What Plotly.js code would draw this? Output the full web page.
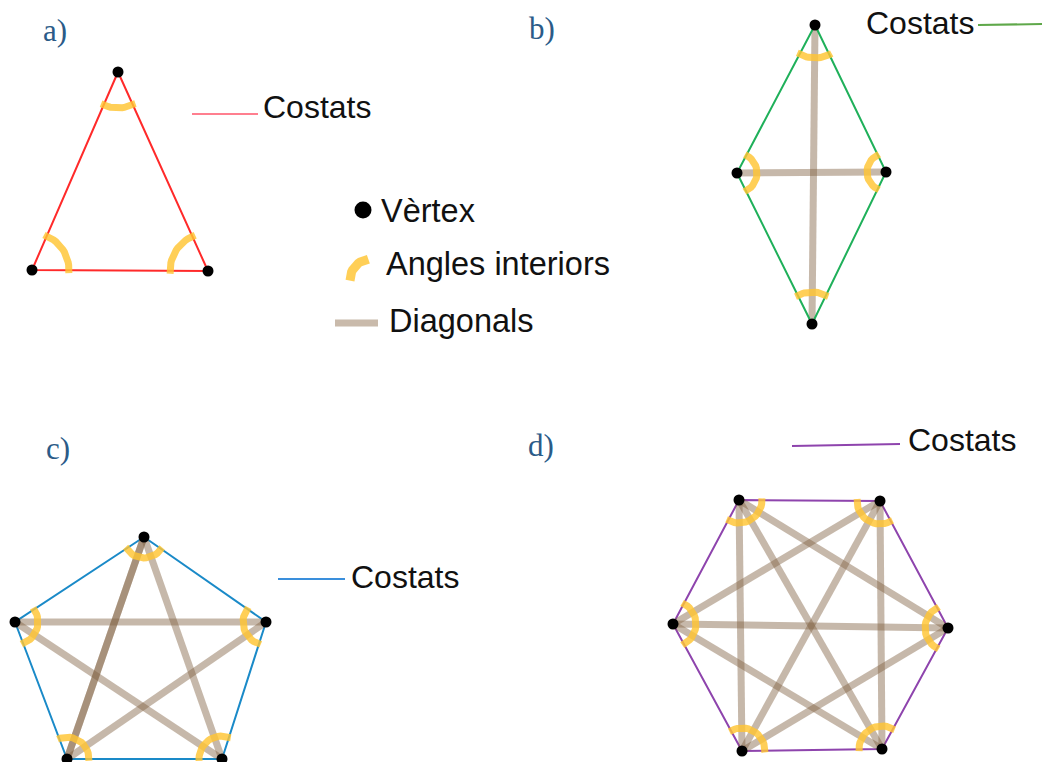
<!DOCTYPE html>
<html><head><meta charset="utf-8">
<script src="https://cdn.plot.ly/plotly-3.0.1.min.js"></script>
<style>html,body{margin:0;padding:0;background:#fff}#chart{width:1042px;height:762px}</style>
</head><body><div id="chart"></div>
<script>
// ---- data: polygon vertices (picture coordinates) ----
const triX = [118, 32, 208];
const triY = [72, 270, 271];
const triR = [36, 37, 38];

const rhoX = [815, 886, 812, 737];
const rhoY = [25, 172, 324, 173];
const rhoR = [33, 19, 32, 20];
const rhoDiag = [[0, 2], [1, 3]];

const penX = [144, 266, 222, 67, 15];
const penY = [537, 622, 759, 759, 622];
const penR = [21, 23, 23, 22, 23];
const penDiag = [[0, 2], [0, 3], [0, 3], [1, 3], [1, 4], [4, 2]];

const hexX = [739, 880, 948, 882, 742, 673];
const hexY = [500, 501, 628, 749, 751, 624];
const hexR = [23, 23, 23, 23, 23, 23];
const hexDiag = [[0, 2], [0, 3], [0, 4], [1, 3], [1, 4], [1, 5], [2, 4], [2, 5], [3, 5]];

const panelLabels = ["a)", "b)", "c)", "d)"];
const panelLabelX = [41, 527, 44, 526];
const panelLabelY = [30, 28, 448, 445];

const costatsX = [261, 864, 349, 906];
const costatsY = [107, 23, 577, 440];
const costatsLineX = [[192, 258], [978, 1042], [278, 345], [792, 900]];
const costatsLineY = [[114, 114], [25, 24], [579, 579], [446, 444]];

const legendLabels = ["Vèrtex", "Angles interiors", "Diagonals"];
const legendLabelX = [379, 384, 387];
const legendLabelY = [211, 264, 321];

// ---- styles ----
const sideColors = ["#ff2a2a", "#1fb05a", "#1a8ac8", "#8e44ad"];
const costatsLineColors = ["#ff7f8f", "#5fa84a", "#3a8fdc", "#8e44ad"];
const diagColor = "rgba(128,98,66,0.45)";
const arcColor = "rgba(255,196,50,0.82)";

const traces = [];

function arcPts(cx, cy, a1, a2, r, n) {
  const xs = [], ys = [];
  for (let i = 0; i <= n; i++) {
    const a = a1 + (a2 - a1) * i / n;
    xs.push(cx + r * Math.cos(a));
    ys.push(cy + r * Math.sin(a));
  }
  return [xs, ys];
}

function addArcs(X, Y, R) {
  const n = X.length;
  for (let i = 0; i < n; i++) {
    const p = (i + n - 1) % n, q = (i + 1) % n;
    let a1 = Math.atan2(Y[p] - Y[i], X[p] - X[i]);
    let a2 = Math.atan2(Y[q] - Y[i], X[q] - X[i]);
    let d = a2 - a1;
    while (d > Math.PI) d -= 2 * Math.PI;
    while (d < -Math.PI) d += 2 * Math.PI;
    const ext = 0.08 * Math.sign(d);
    const [ax, ay] = arcPts(X[i], Y[i], a1 - ext, a1 + d + ext, R[i], 18);
    traces.push({x: ax, y: ay, mode: 'lines', line: {color: arcColor, width: 7}, hoverinfo: 'skip'});
  }
}

function addDiagonals(X, Y, D) {
  D.forEach(([a, b]) => {
    traces.push({x: [X[a], X[b]], y: [Y[a], Y[b]], mode: 'lines',
      line: {color: diagColor, width: 7}, hoverinfo: 'skip'});
  });
}

function addPolygon(X, Y, color, w) {
  traces.push({x: X.concat([X[0]]), y: Y.concat([Y[0]]), mode: 'lines',
    line: {color: color, width: w}, hoverinfo: 'skip'});
}

function addVertices(X, Y) {
  traces.push({x: X, y: Y, mode: 'markers', marker: {color: '#000', size: 11}, hoverinfo: 'skip'});
}

// a) triangle
addPolygon(triX, triY, sideColors[0], 2);
addArcs(triX, triY, triR);
addVertices(triX, triY);
// b) rhombus
addDiagonals(rhoX, rhoY, rhoDiag);
addPolygon(rhoX, rhoY, sideColors[1], 2);
addArcs(rhoX, rhoY, rhoR);
addVertices(rhoX, rhoY);
// c) pentagon
addPolygon(penX, penY, sideColors[2], 2);
addDiagonals(penX, penY, penDiag);
addArcs(penX, penY, penR);
addVertices(penX, penY);
// d) hexagon
addPolygon(hexX, hexY, sideColors[3], 2);
addDiagonals(hexX, hexY, hexDiag);
addArcs(hexX, hexY, hexR);
addVertices(hexX, hexY);

// "Costats" key lines
costatsLineX.forEach((lx, i) => {
  traces.push({x: lx, y: costatsLineY[i], mode: 'lines',
    line: {color: costatsLineColors[i], width: 2}, hoverinfo: 'skip'});
});

// central legend symbols
traces.push({x: [363], y: [210], mode: 'markers', marker: {color: '#000', size: 17}, hoverinfo: 'skip'});
(function () {
  const [ax, ay] = arcPts(371, 280, Math.PI * 0.99, Math.PI * 1.46, 21, 14);
  traces.push({x: ax, y: ay, mode: 'lines', line: {color: arcColor, width: 9}, hoverinfo: 'skip'});
})();
traces.push({x: [335, 378], y: [323, 323], mode: 'lines',
  line: {color: 'rgba(165,140,115,0.6)', width: 7}, hoverinfo: 'skip'});

const annotations = [];
panelLabels.forEach((t, i) => annotations.push({
  x: panelLabelX[i], y: panelLabelY[i], xref: 'x', yref: 'y', text: t, showarrow: false,
  xanchor: 'left', yanchor: 'middle',
  font: {family: 'Liberation Serif, DejaVu Serif, serif', size: 31, color: '#2b5b88'}
}));
costatsX.forEach((x, i) => annotations.push({
  x: x, y: costatsY[i], xref: 'x', yref: 'y', text: 'Costats', showarrow: false,
  xanchor: 'left', yanchor: 'middle',
  font: {family: 'Liberation Sans, Arial, sans-serif', size: 32, color: '#111'}
}));
legendLabels.forEach((t, i) => annotations.push({
  x: legendLabelX[i], y: legendLabelY[i], xref: 'x', yref: 'y', text: t, showarrow: false,
  xanchor: 'left', yanchor: 'middle',
  font: {family: 'Liberation Sans, Arial, sans-serif', size: 32.5, color: '#111'}
}));

const layout = {
  width: 1042, height: 762,
  margin: {l: 0, r: 0, t: 0, b: 0},
  paper_bgcolor: '#fff', plot_bgcolor: '#fff',
  showlegend: false,
  xaxis: {range: [0, 1042], visible: false, fixedrange: true},
  yaxis: {range: [762, 0], visible: false, fixedrange: true},
  annotations: annotations
};

Plotly.newPlot('chart', traces, layout, {staticPlot: true, displayModeBar: false});
</script>
</body></html>
